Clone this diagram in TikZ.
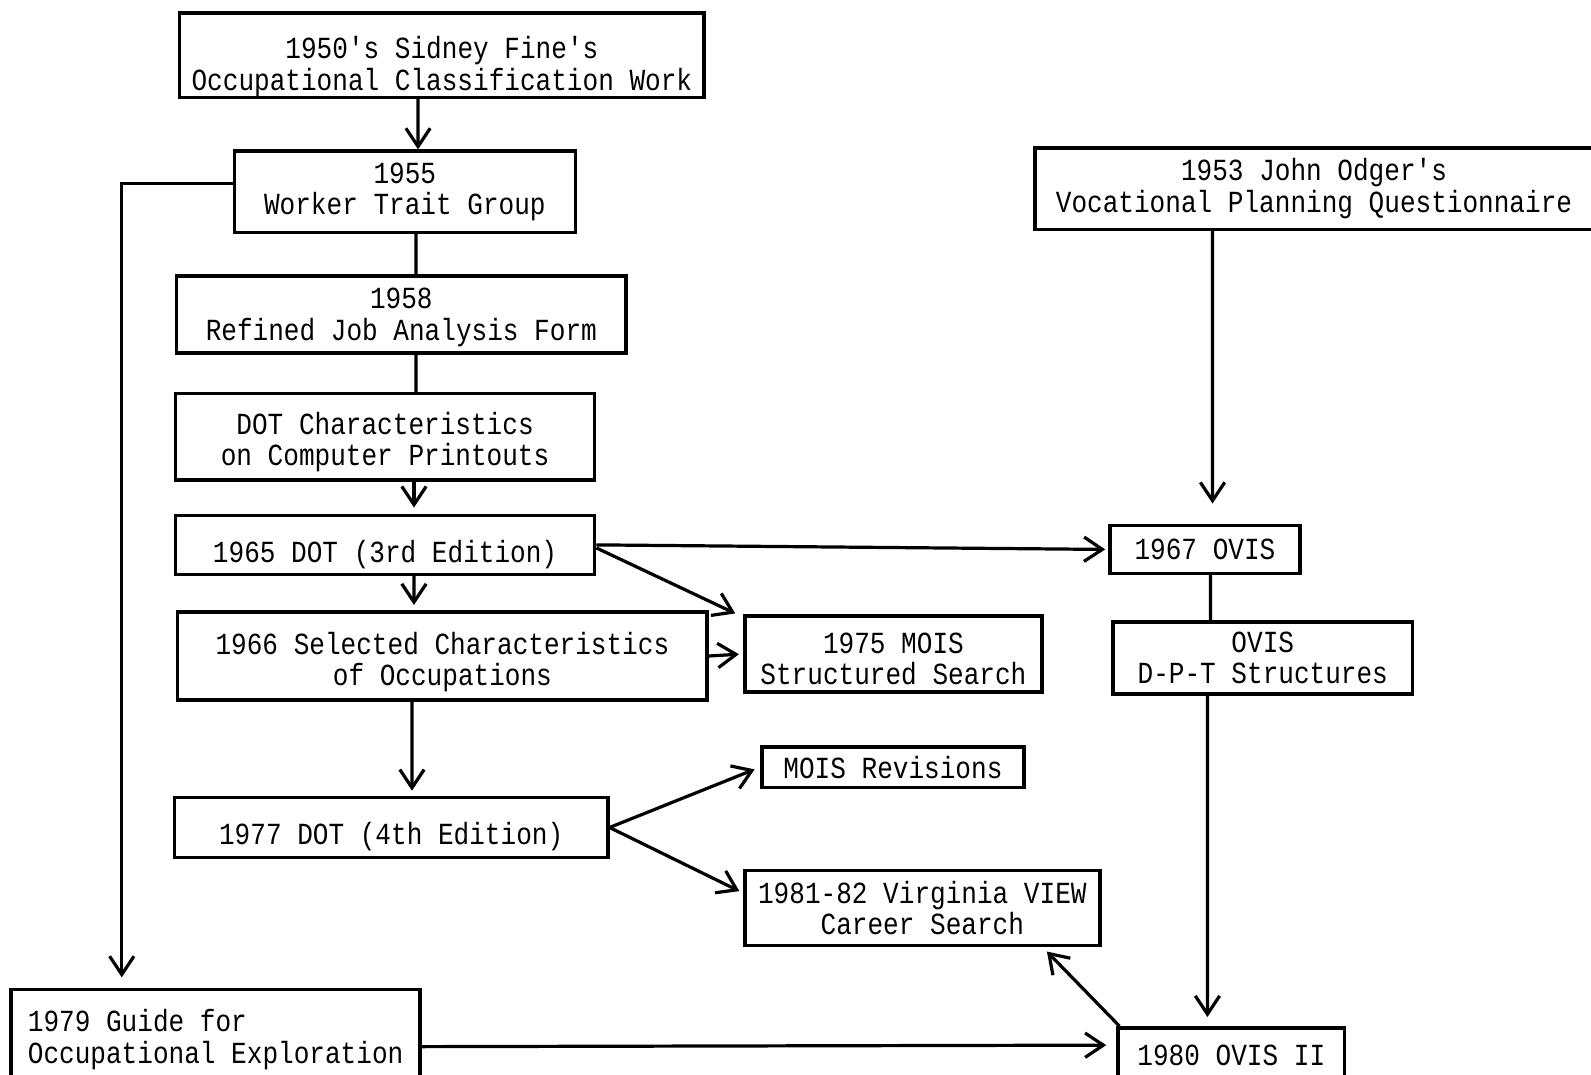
\documentclass[tikz,border=0pt]{standalone}
\usepackage{fontspec}
\usepackage{tikz}
\usetikzlibrary{arrows.meta}
\newfontfamily\typew[FakeStretch=0.85]{Liberation Mono}
\newcommand\sink[1]{\rule{0pt}{#1}}
\tikzset{
    every node/.style={rectangle, draw, line width=1pt, inner sep=0pt,
    	align=center, font=\typew\fontsize{8.6}{8.8}\selectfont}
}
\tikzset{
    link/.style={line width=0.9pt},
    >={Straight Barb[length=1.8mm,width=2.4mm,line width=0.9pt]}
}

\begin{document}
\begin{tikzpicture}
	\useasboundingbox (0,0) rectangle (15.68,-10.59);
	\node (fine) [minimum width=5.17cm, minimum height=0.83cm] at ( 4.355cm, -0.545cm) {\sink{12.6pt}1950's Sidney Fine's\\Occupational Classification Work};
	\node (trait) [minimum width=3.36cm, minimum height=0.80cm] at ( 3.99cm, -1.89cm) {1955\\Worker Trait Group};
	\node (form) [minimum width=4.43cm, minimum height=0.76cm] at ( 3.955cm, -3.10cm) {\sink{7.4pt}1958\\Refined Job Analysis Form};
	\node (print) [minimum width=4.13cm, minimum height=0.85cm] at ( 3.795cm, -4.305cm) {\sink{9.1pt}DOT Characteristics\\on Computer Printouts};
	\node (dotthree) [minimum width=4.13cm, minimum height=0.58cm] at ( 3.795cm, -5.37cm) {\sink{11.7pt}1965 DOT (3rd Edition)};
	\node (select) [minimum width=5.22cm, minimum height=0.87cm] at ( 4.36cm, -6.465cm) {\sink{9.7pt}1966 Selected Characteristics\\of Occupations};
	\node (dotfour) [minimum width=4.27cm, minimum height=0.59cm] at ( 3.855cm, -8.155cm) {\sink{11.2pt}1977 DOT (4th Edition)};
	\node (guide) [minimum width=4.03cm, minimum height=0.87cm, align=left] at ( 2.125cm, -10.185cm) {\sink{9.7pt}1979 Guide for\\Occupational Exploration};
	\node (mois) [minimum width=2.93cm, minimum height=0.75cm] at ( 8.805cm, -6.445cm) {\sink{8.5pt}1975 MOIS\\Structured Search};
	\node (revis) [minimum width=2.58cm, minimum height=0.40cm] at ( 8.80cm, -7.56cm) {MOIS Revisions};
	\node (view) [minimum width=3.50cm, minimum height=0.74cm] at ( 9.09cm, -8.95cm) {1981-82 Virginia VIEW\\Career Search};
	\node (odger) [minimum width=5.50cm, minimum height=0.80cm] at (12.95cm, -1.86cm) {1953 John Odger's\\Vocational Planning Questionnaire};
	\node (ovis) [minimum width=1.87cm, minimum height=0.47cm] at (11.875cm, -5.415cm) {1967 OVIS};
	\node (dpt) [minimum width=2.95cm, minimum height=0.71cm] at (12.445cm, -6.485cm) {OVIS\\D-P-T Structures};
	\node (ovistwo) [minimum width=2.23cm, minimum height=0.54cm] at (12.135cm, -10.40cm) {1980 OVIS II};

	\draw[link,->] ([xshift=-2.35mm]fine.south) -- ([xshift=1.3mm]trait.north);
	\draw[link] ([xshift=1.1mm]trait.south) -- ([xshift=1.45mm]form.north);
	\draw[link] ([xshift=1.45mm]form.south) -- ([xshift=3.05mm]print.north);
	\draw[link,->,shorten >=0.6mm] ([xshift=2.85mm]print.south) -- ([xshift=2.85mm]dotthree.north);
	\draw[link,->,shorten >=0.5mm] ([xshift=2.85mm]dotthree.south) -- ([xshift=-2.8mm]select.north);
	\draw[link,->,shorten >=0.5mm] ([xshift=-3mm]select.south) -- ([xshift=2.05mm]dotfour.north);
	\draw[link,->,shorten >=1mm] ([yshift=0.8mm]trait.west) -| ([xshift=-9.25mm]guide.north);
	\draw[link,->,shorten >=0.3mm] (dotthree.east) -- (ovis.west);
	\draw[link,->,shorten >=0.4mm] ([yshift=-0.3mm]dotthree.east) -- ([xshift=-0.4mm,yshift=-0.1mm]mois.north west);
	\draw[link,->,shorten >=0.4mm] (select.east) -- (mois.west);
	\draw[link,->,shorten >=0.6mm] (dotfour.east) -- (revis.west);
	\draw[link,->,shorten >=0.4mm] (dotfour.east) -- ([yshift=1.5mm]view.west);
	\draw[link,->,shorten >=2mm] ([xshift=-10mm]odger.south) -- ([xshift=0.75mm]ovis.north);
	\draw[link] ([xshift=0.55mm]ovis.south) -- ([xshift=-5.15mm]dpt.north);
	\draw[link,->,shorten >=0.9mm] ([xshift=-5.45mm]dpt.south) -- ([xshift=-2.35mm]ovistwo.north);
	\draw[link,->] ([xshift=0.3mm]ovistwo.north west) -- ([xshift=-5.4mm,yshift=-0.4mm]view.south east);
	\draw[link,->,shorten >=1mm] ([yshift=-1.3mm]guide.east) -- ([yshift=1mm]ovistwo.west);
\end{tikzpicture}
\end{document}
